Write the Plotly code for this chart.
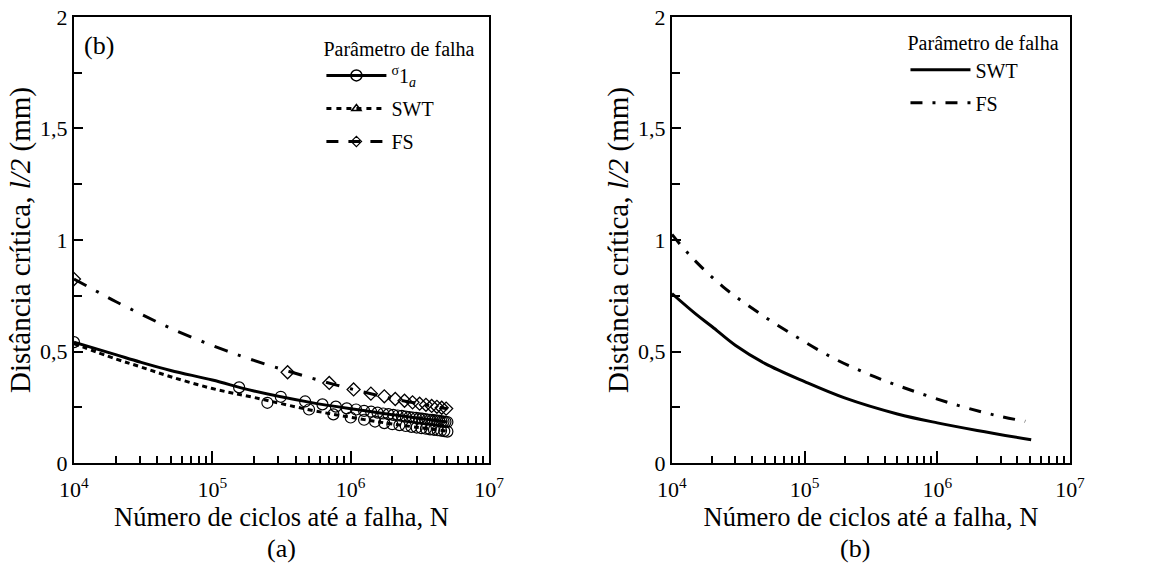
import plotly.graph_objects as go

FONT = "Liberation Serif"

# ---------------- Left panel (a) data ----------------
a_sig_N = [1e4, 2e4, 3e4, 5e4, 1e5, 2e5, 5e5, 1e6, 2e6, 3e6, 5e6]
a_sig_v = [0.542, 0.486, 0.453, 0.415, 0.372, 0.323, 0.273, 0.243, 0.217, 0.202, 0.184]

a_sig_mk_N = [1e4] + [k * 156250 for k in range(1, 33)]
a_sig_mk_v = [0.542, 0.339, 0.297, 0.276, 0.263, 0.253, 0.245, 0.240, 0.234, 0.230, 0.226,
              0.222, 0.219, 0.216, 0.213, 0.211, 0.208, 0.206, 0.204, 0.202, 0.200,
              0.199, 0.197, 0.195, 0.194, 0.193, 0.191, 0.190, 0.189, 0.187, 0.186,
              0.185, 0.184]

a_swt_N = [1e4, 2e4, 3e4, 5e4, 1e5, 2e5, 5e5, 1e6, 2e6, 5e6]
a_swt_v = [0.535, 0.467, 0.432, 0.387, 0.334, 0.294, 0.239, 0.205, 0.175, 0.143]

a_swt_mk_N = [k * 250000 for k in range(1, 21)]
a_swt_mk_v = [0.270, 0.240, 0.218, 0.204, 0.194, 0.186, 0.179, 0.174, 0.170, 0.166,
              0.162, 0.159, 0.156, 0.154, 0.151, 0.149, 0.147, 0.145, 0.143, 0.141]

a_fs_N = [1e4, 1.54e4, 2e4, 3e4, 5e4, 1e5, 2e5, 5e5, 1e6, 2e6, 5e6]
a_fs_v = [0.825, 0.762, 0.724, 0.67, 0.604, 0.527, 0.46, 0.384, 0.333, 0.289, 0.243]

a_fs_mk_N = [1e4] + [k * 350000 for k in range(1, 15)]
a_fs_mk_v = [0.825, 0.407, 0.359, 0.330, 0.311, 0.299, 0.287, 0.279, 0.272, 0.266, 0.261,
             0.256, 0.252, 0.248, 0.244]

# ---------------- Right panel (b) data ----------------
b_swt_N = [1e4, 1.5e4, 2e4, 3e4, 5e4, 1e5, 2e5, 5e5, 1e6, 2e6, 5.1e6]
b_swt_v = [0.76, 0.67, 0.612, 0.528, 0.447, 0.365, 0.292, 0.22, 0.18, 0.146, 0.104]

b_fs_N = [1e4, 1.37e4, 2.43e4, 4.6e4, 8.7e4, 1.7e5, 3.4e5, 6.8e5, 1.4e6, 2.7e6, 4.6e6]
b_fs_v = [1.025, 0.93, 0.79, 0.67, 0.565, 0.466, 0.386, 0.32, 0.26, 0.215, 0.187]

x_tickvals = [1e4, 1e5, 1e6, 1e7]
x_ticktext = ["10<sup>4</sup>", "10<sup>5</sup>", "10<sup>6</sup>", "10<sup>7</sup>"]
x_minor = [m * 10 ** e for e in (4, 5, 6) for m in range(2, 10)]
y_tickvals = [0, 0.5, 1, 1.5, 2]
y_ticktext = ["0", "0,5", "1", "1,5", "2"]
y_minor = [0.25, 0.75, 1.25, 1.75]

legend_title = "Parâmetro de falha"
sig_name = "<sup>σ</sup>1<sub><i>a</i></sub>"

SWT_DASH = "5px,4px"
FS_DASH_A = "14px,11px,3px,11px"
FS_DASH_B = "12px,10px,3px,10px"

fig = go.Figure()

# ---- left panel traces ----
fig.add_trace(go.Scatter(x=a_sig_N, y=a_sig_v, mode="lines", line=dict(color="black", width=3, shape="spline"),
                         showlegend=False, xaxis="x", yaxis="y"))
fig.add_trace(go.Scatter(x=a_sig_mk_N, y=a_sig_mk_v, mode="markers",
                         marker=dict(symbol="circle-open", size=11, color="black", line=dict(width=1.2)),
                         showlegend=False, xaxis="x", yaxis="y"))
fig.add_trace(go.Scatter(x=a_swt_N, y=a_swt_v, mode="lines",
                         line=dict(color="black", width=3, dash=SWT_DASH, shape="spline"),
                         showlegend=False, xaxis="x", yaxis="y"))
fig.add_trace(go.Scatter(x=a_swt_mk_N, y=a_swt_mk_v, mode="markers",
                         marker=dict(symbol="circle-open", size=11, color="black", line=dict(width=1.2)),
                         showlegend=False, xaxis="x", yaxis="y"))
fig.add_trace(go.Scatter(x=a_fs_N, y=a_fs_v, mode="lines",
                         line=dict(color="black", width=3, dash=FS_DASH_A, shape="spline"),
                         showlegend=False, xaxis="x", yaxis="y"))
fig.add_trace(go.Scatter(x=a_fs_mk_N, y=a_fs_mk_v, mode="markers",
                         marker=dict(symbol="diamond-open", size=10, color="black", line=dict(width=1.3)),
                         showlegend=False, xaxis="x", yaxis="y"))

# legend entries (left)
fig.add_trace(go.Scatter(x=[None], y=[None], mode="lines+markers", name=sig_name, legend="legend",
                         legendgroup="a1",
                         line=dict(color="black", width=3),
                         marker=dict(symbol="circle-open", size=11, color="black", line=dict(width=1.5)),
                         xaxis="x", yaxis="y"))
fig.add_trace(go.Scatter(x=[None], y=[None], mode="lines+markers", name="SWT", legend="legend",
                         legendgroup="a2",
                         line=dict(color="black", width=3, dash="5px,5px"),
                         marker=dict(symbol="triangle-up-open", size=8, color="black", line=dict(width=1.5)),
                         xaxis="x", yaxis="y"))
fig.add_trace(go.Scatter(x=[None], y=[None], mode="lines+markers", name="FS", legend="legend",
                         legendgroup="a3",
                         line=dict(color="black", width=3, dash="12px,10px"),
                         marker=dict(symbol="diamond-open-dot", size=8, color="black", line=dict(width=1.2)),
                         xaxis="x", yaxis="y"))

# ---- right panel traces ----
fig.add_trace(go.Scatter(x=b_swt_N, y=b_swt_v, mode="lines", name="SWT", legend="legend2",
                         legendgroup="b1",
                         line=dict(color="black", width=3, shape="spline"), xaxis="x2", yaxis="y2"))
fig.add_trace(go.Scatter(x=b_fs_N, y=b_fs_v, mode="lines", name="FS", legend="legend2",
                         legendgroup="b2",
                         line=dict(color="black", width=3, dash=FS_DASH_B, shape="spline"),
                         xaxis="x2", yaxis="y2"))


def xaxis_cfg(domain, anchor):
    return dict(domain=domain, anchor=anchor, type="log", range=[4, 7], automargin=False,
                tickmode="array", tickvals=x_tickvals, ticktext=x_ticktext,
                ticks="inside", ticklen=12, tickwidth=1.5, tickcolor="black",
                ticklabelstandoff=6,
                minor=dict(tickmode="array", tickvals=x_minor, ticks="inside", ticklen=7,
                           tickwidth=1.5, tickcolor="black", showgrid=False),
                showline=True, linewidth=2, linecolor="black", mirror=True,
                showgrid=False, zeroline=False,
                tickfont=dict(family=FONT, size=22, color="black"),
                title=dict(text="Número de ciclos até a falha, N",
                           font=dict(family=FONT, size=26.5, color="black"), standoff=4))


def yaxis_cfg(domain, anchor):
    return dict(domain=domain, anchor=anchor, range=[0, 2], automargin=False,
                tickmode="array", tickvals=y_tickvals, ticktext=y_ticktext,
                ticks="inside", ticklen=9, tickwidth=1.5, tickcolor="black",
                minor=dict(tickmode="array", tickvals=y_minor, ticks="inside", ticklen=8,
                           tickwidth=1.5, tickcolor="black", showgrid=False),
                showline=True, linewidth=2, linecolor="black", mirror=True,
                showgrid=False, zeroline=False,
                tickfont=dict(family=FONT, size=22, color="black"),
                title=dict(text="Distância crítica, <i>l/2</i> (mm)",
                           font=dict(family=FONT, size=29, color="black"), standoff=1))


leg_common = dict(bgcolor="rgba(0,0,0,0)", borderwidth=0, xanchor="left", yanchor="top",
                  font=dict(family=FONT, size=20, color="black"),
                  tracegroupgap=4, itemwidth=60)

fig.update_layout(
    width=1152, height=565,
    margin=dict(l=0, r=0, t=0, b=0, autoexpand=False),
    paper_bgcolor="white", plot_bgcolor="white",
    font=dict(family=FONT, color="black"),
    xaxis=xaxis_cfg([0.0642, 0.4245], "y"),
    yaxis=yaxis_cfg([0.1805, 0.970], "x"),
    xaxis2=xaxis_cfg([0.5833, 0.9288], "y2"),
    yaxis2=yaxis_cfg([0.1805, 0.970], "x2"),
    legend=dict(leg_common, x=0.279, y=0.947, title=dict(text=legend_title, side="top",
                                                         font=dict(family=FONT, size=20, color="black"))),
    legend2=dict(leg_common, x=0.786, y=0.957, title=dict(text=legend_title, side="top",
                                                         font=dict(family=FONT, size=20, color="black"))),
    annotations=[
        dict(text="(b)", x=0.071, y=0.92, xref="paper", yref="paper", xanchor="left", yanchor="middle",
             showarrow=False, font=dict(family=FONT, size=26, color="black")),
        dict(text="(a)", x=0.2445, y=0.03, xref="paper", yref="paper", xanchor="center", yanchor="middle",
             showarrow=False, font=dict(family=FONT, size=26, color="black")),
        dict(text="(b)", x=0.742, y=0.03, xref="paper", yref="paper", xanchor="center", yanchor="middle",
             showarrow=False, font=dict(family=FONT, size=26, color="black")),
    ],
)

fig.write_html("out.html")
